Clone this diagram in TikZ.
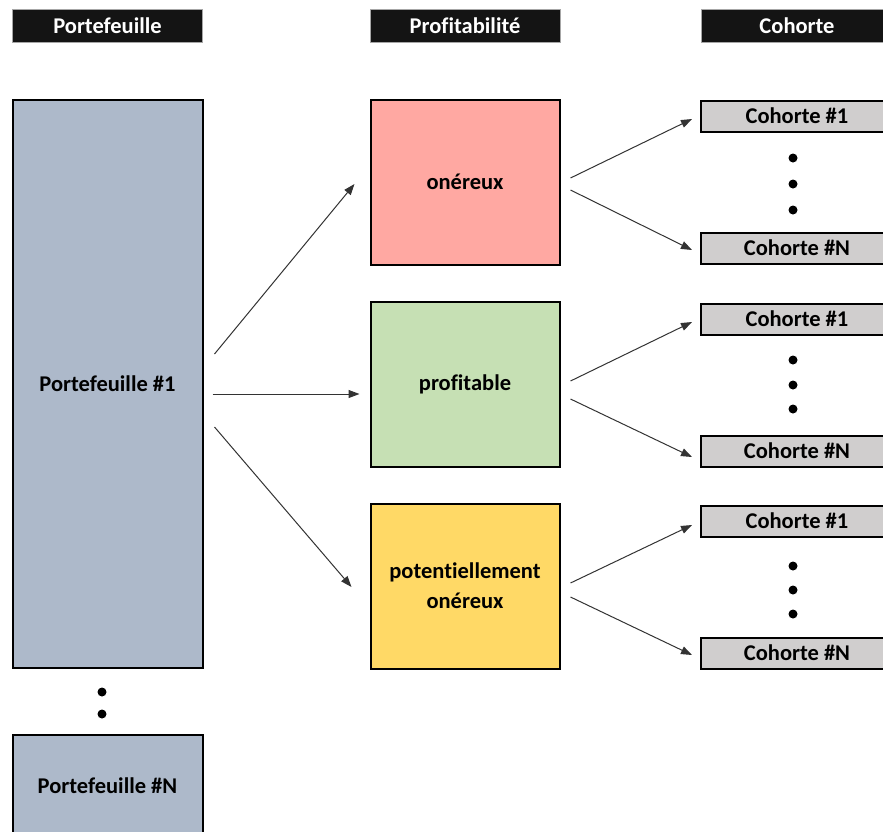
\documentclass[tikz,border=0pt]{standalone}
\usepackage{fontspec}
\setmainfont{Carlito}[Ligatures=NoCommon]
\usetikzlibrary{arrows.meta,calc}
\definecolor{hdrblack}{HTML}{141414}
\definecolor{portblue}{HTML}{ADB9CA}
\definecolor{salmon}{HTML}{FFA8A2}
\definecolor{softgreen}{HTML}{C6E0B4}
\definecolor{softyellow}{HTML}{FFD966}
\definecolor{cohgray}{HTML}{D0CECE}
\begin{document}
\begin{tikzpicture}[x=1pt,y=-1pt,
  lbl/.style={font=\bfseries\fontsize{22.5}{30}\selectfont},
  box/.style={lbl, draw=black, line width=2pt, inner sep=0pt, align=center},
  hdr/.style={lbl, draw=gray!70, line width=1pt, fill=hdrblack, text=white,
    minimum width=190pt, minimum height=33pt, inner sep=0pt},
  catbox/.style={box, minimum width=189pt, minimum height=165pt},
  cohbox/.style={box, fill=cohgray, minimum width=192pt, minimum height=31pt},
  arr/.style={draw=black!80, line width=1pt, -{Triangle[length=11pt,width=8pt]}},
  dot/.style={circle, fill=black, inner sep=0pt, minimum size=9pt}
]
\clip (0,0) rectangle (883,831);
\fill[white] (0,0) rectangle (883,831);

% column headers
\node[hdr] (hp) at (107.5,26) {Portefeuille};
\node[hdr] (hr) at (465,26) {Profitabilité};
\node[hdr, minimum width=192pt] (hc) at (797,26) {Cohorte};

% portfolios
\node[box, fill=portblue, minimum width=190pt, minimum height=568pt] (p1) at (107.5,384) {Portefeuille \#1};
\node[dot] (pd1) at (102,692) {};
\node[dot] (pd2) at (102,714) {};
\node[box, fill=portblue, minimum width=190pt, minimum height=102pt] (pN) at (107.5,786) {Portefeuille \#N};

% profitability categories
\node[catbox, fill=salmon] (on) at (465,182) {onéreux};
\node[catbox, fill=softgreen] (pr) at (465,384) {profitable};
\node[catbox, fill=softyellow] (po) at (465,586) {potentiellement\\onéreux};

% cohorts
\node[cohbox] (c11) at (797,116) {Cohorte \#1};
\node[cohbox] (c1N) at (797,248) {Cohorte \#N};
\node[cohbox] (c21) at (797,319) {Cohorte \#1};
\node[cohbox] (c2N) at (797,451) {Cohorte \#N};
\node[cohbox] (c31) at (797,521) {Cohorte \#1};
\node[cohbox] (c3N) at (797,653) {Cohorte \#N};

\foreach \y [count=\i] in {158,184,210} \node[dot] (d1\i) at (793,\y) {};
\foreach \y [count=\i] in {360,385,409} \node[dot] (d2\i) at (793,\y) {};
\foreach \y [count=\i] in {566,590,614} \node[dot] (d3\i) at (793,\y) {};

% portfolio to categories
\draw[arr] ($(p1.east)+(11,-30)$) -- ($(on.west)+(-15,2)$);
\draw[arr] ($(p1.east)+(9,10)$) -- ($(pr.west)+(-10,10)$);
\draw[arr] ($(p1.east)+(11,43)$) -- ($(po.west)+(-18,1)$);

% categories to cohorts
\draw[arr] ($(on.east)+(10,-4)$) -- ($(c11.west)+(-8,3)$);
\draw[arr] ($(on.east)+(10,8)$) -- ($(c1N.west)+(-8,2)$);
\draw[arr] ($(pr.east)+(10,-3)$) -- ($(c21.west)+(-8,3)$);
\draw[arr] ($(pr.east)+(10,15)$) -- ($(c2N.west)+(-8,6)$);
\draw[arr] ($(po.east)+(10,-3)$) -- ($(c31.west)+(-8,4)$);
\draw[arr] ($(po.east)+(10,11)$) -- ($(c3N.west)+(-8,2)$);
\end{tikzpicture}
\end{document}
